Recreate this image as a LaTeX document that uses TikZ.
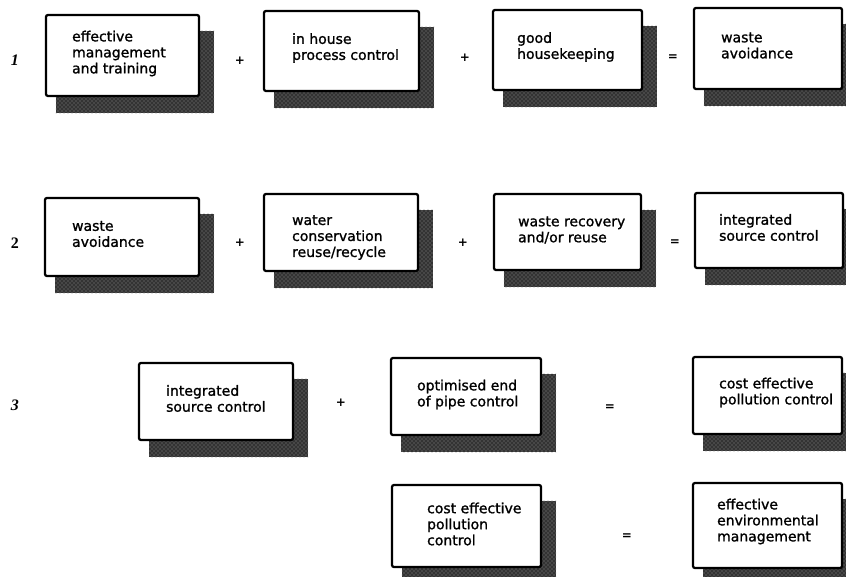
\documentclass[tikz,border=0pt]{standalone}
\usepackage{fontspec}
\setmainfont{DejaVu Sans}
\newfontfamily\cardfont[FakeBold=1.2]{DejaVu Sans}
\newfontfamily\numfont{Liberation Serif}
\usetikzlibrary{fit,backgrounds,patterns}
\begin{document}
\begin{tikzpicture}[x=0.75pt,y=-0.75pt,
  card/.style={draw=black, line width=1.7pt, fill=white, rounded corners=1.5pt, inner sep=0pt},
  cardtext/.style={anchor=west, align=left, inner sep=0pt, font=\cardfont\fontsize{10.5}{12}\selectfont},
  op/.style={font=\bfseries\small, inner sep=0pt},
  rownum/.style={font=\numfont\bfseries\fontsize{12}{13}\selectfont, inner sep=0pt},
  shade/.style={fill=black!80, postaction={pattern=crosshatch dots, pattern color=black!45}}]
\useasboundingbox (0,0) rectangle (846,577);

% row 1
\node[card, fit={(46,15) (199,96)}] (a) {};
\node[card, fit={(264,11) (419,91)}] (b) {};
\node[card, fit={(493,10) (642,90)}] (c) {};
\node[card, fit={(694,8) (842,89)}] (d) {};
% row 2
\node[card, fit={(45,198) (199,276)}] (e) {};
\node[card, fit={(264,194) (418,271)}] (f) {};
\node[card, fit={(494,194) (641,270)}] (g) {};
\node[card, fit={(695,193) (843,268)}] (h) {};
% row 3
\node[card, fit={(139,363) (293,440)}] (i) {};
\node[card, fit={(391,358) (541,435)}] (j) {};
\node[card, fit={(693,357) (842,434)}] (k) {};
% row 4
\node[card, fit={(392,485) (541,567)}] (l) {};
\node[card, fit={(693,483) (842,568)}] (m) {};

% drop shadows behind the cards
\begin{scope}[on background layer]
  \foreach \n in {a,b,c,d,e,f,g,h,i,j,k,l,m}
    \fill[shade] ([shift={(11,17)}]\n.north west) rectangle ([shift={(14,16)}]\n.south east);
\end{scope}

% card texts
\node[cardtext] (a-t) at ([shift={(27,-2)}]a.west) {effective\\management\\and training};
\node[cardtext] (b-t) at ([shift={(29,-3)}]b.west) {in house\\process control};
\node[cardtext] (c-t) at ([shift={(25,-3)}]c.west) {good\\housekeeping};
\node[cardtext] (d-t) at ([shift={(28,-3)}]d.west) {waste\\avoidance};
\node[cardtext] (e-t) at ([shift={(28,-3)}]e.west) {waste\\avoidance};
\node[cardtext] (f-t) at ([shift={(29,5)}]f.west) {water\\conservation\\reuse/recycle};
\node[cardtext] (g-t) at ([shift={(25,-2)}]g.west) {waste recovery\\and/or reuse};
\node[cardtext] (h-t) at ([shift={(25,-3)}]h.west) {integrated\\source control};
\node[cardtext] (i-t) at ([shift={(28,-3)}]i.west) {integrated\\source control};
\node[cardtext] (j-t) at ([shift={(27,-2)}]j.west) {optimised end\\of pipe control};
\node[cardtext] (k-t) at ([shift={(27,-3)}]k.west) {cost effective\\pollution control};
\node[cardtext] (l-t) at ([shift={(36,-2)}]l.west) {cost effective\\pollution\\control};
\node[cardtext] (m-t) at ([shift={(25,-4)}]m.west) {effective\\environmental\\management};

% row numbers
\node[rownum] (n1) at (15,60) {\itshape 1};
\node[rownum] (n2) at (15,243) {2};
\node[rownum] (n3) at (15,405) {\itshape 3};

% operators
\node[op] (p1) at (240,61) {+};
\node[op] (p2) at (465,58) {+};
\node[op] (q1) at (673,58) {=};
\node[op] (p3) at (240,243) {+};
\node[op] (p4) at (463,243) {+};
\node[op] (q2) at (675,243) {=};
\node[op] (p5) at (341,403) {+};
\node[op] (q3) at (610,408) {=};
\node[op] (q4) at (627,537) {=};
\end{tikzpicture}
\end{document}
